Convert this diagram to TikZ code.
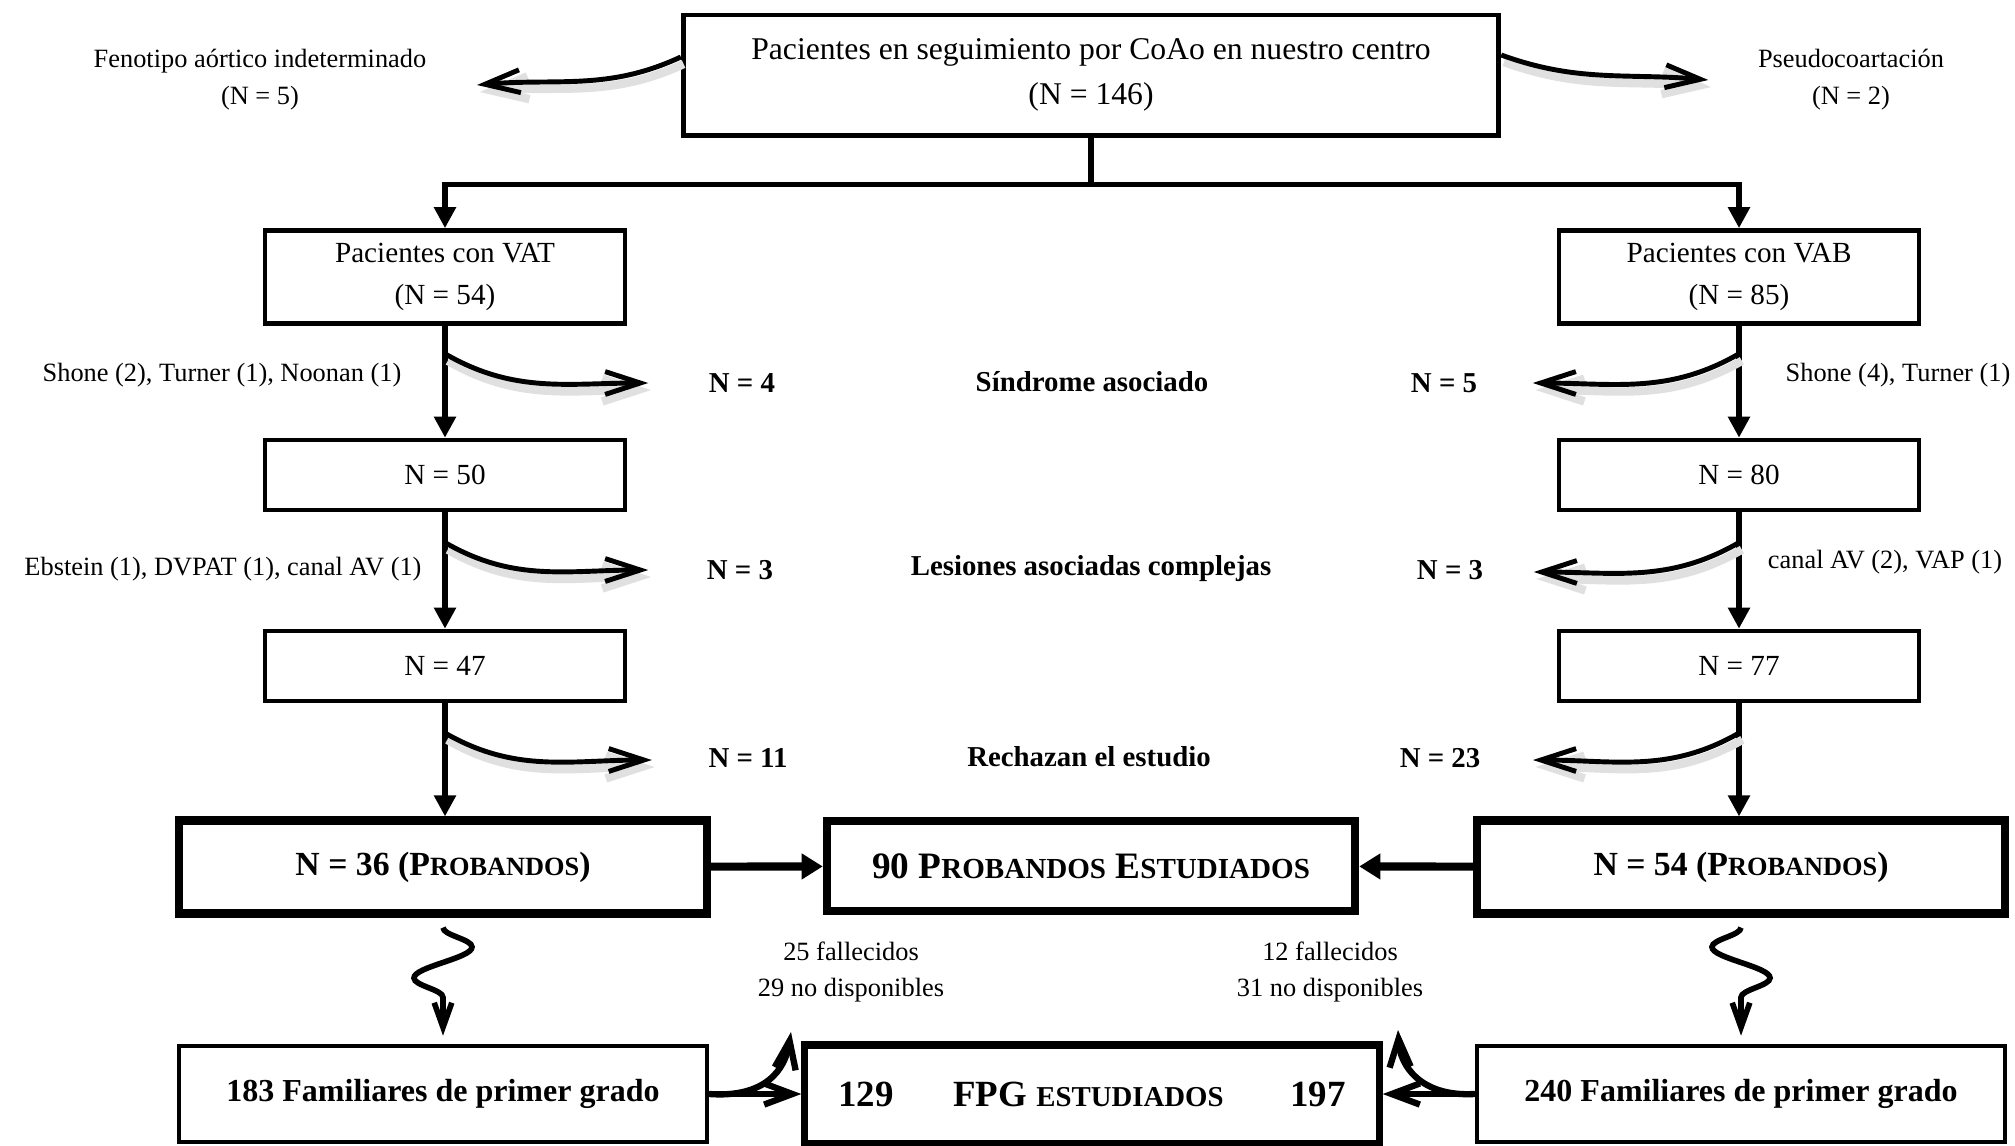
\documentclass[tikz,border=0pt]{standalone}
\usepackage{fontspec}
\setmainfont{Liberation Serif}
\usetikzlibrary{arrows.meta,decorations.pathmorphing,calc}
\makeatletter
\newcommand{\scap}[1]{{\fontsize{\the\dimexpr 0.78\dimexpr\f@size pt\relax\relax}{12pt}\selectfont #1}}
\makeatother

\begin{document}
\begin{tikzpicture}[x=0.01cm,y=-0.01cm]
\tikzstyle{box} = [rectangle, draw, line width=1.3pt, minimum width=3.6cm,
minimum height=0.7cm, align=center, inner sep=1pt, font=\fontsize{8.3}{11.7}\selectfont]
\tikzstyle{bigbox} = [rectangle, draw, line width=2.3pt, minimum width=5.28cm,
minimum height=0.93cm, inner sep=1pt, font=\bfseries\fontsize{9.6}{12}\selectfont]
\tikzstyle{note} = [align=center, inner sep=0pt, font=\fontsize{7.5}{10.5}\selectfont]
\tikzstyle{count} = [inner sep=0pt, font=\bfseries\fontsize{8.2}{10}\selectfont]
\tikzstyle{line} = [draw, line width=1.6pt, -{Triangle[length=6pt,width=6pt]}]
\tikzstyle{curved} = [draw, line width=1.4pt, -{Straight Barb[length=10pt,width=6.5pt]},
preaction={draw=black!12, line width=2.4pt, transform canvas={shift={(0.8pt,-2pt)}}}]
\tikzstyle{brush} = [draw, line width=1.8pt, -{Straight Barb[length=8pt,width=6pt]}]
\tikzstyle{squig} = [draw, line width=1.6pt, decorate,
decoration={snake, amplitude=2.9mm, segment length=6.2mm, post length=2.5mm},
-{Straight Barb[length=7pt,width=5pt]}]

\path[use as bounding box, fill=white] (0,0) rectangle (2015,1145);

% row 0
\node[box, line width=1.4pt, minimum width=8.15cm, minimum height=1.2cm,
font=\fontsize{9}{13}\selectfont] (top) at (1091,75)
{Pacientes en seguimiento por CoAo en nuestro centro\\(N = 146)};
\node[note] (feno) at (260,80) {Fenotipo aórtico indeterminado\\(N = 5)};
\node[note] (pseudo) at (1851,80) {Pseudocoartación\\(N = 2)};
% row 1
\node[box, minimum height=0.93cm] (vat) at (445,277) {Pacientes con VAT\\(N = 54)};
\node[box, minimum height=0.93cm] (vab) at (1739,277) {Pacientes con VAB\\(N = 85)};
% row 2
\node[box] (n50) at (445,475) {N = 50};
\node[box] (n80) at (1739,475) {N = 80};
% row 3
\node[box] (n47) at (445,666) {N = 47};
\node[box] (n77) at (1739,666) {N = 77};
% row 4
\node[bigbox] (p36) at (443,867) {N = 36 (P\scap{ROBANDOS})};
\node[bigbox, minimum height=0.9cm, font=\bfseries\fontsize{10.6}{12}\selectfont] (p90)
at (1091,866) {90 P\scap{ROBANDOS} E\scap{STUDIADOS}};
\node[bigbox] (p54) at (1741,867) {N = 54 (P\scap{ROBANDOS})};
% row 5
\node[box, minimum width=5.28cm, minimum height=0.96cm,
font=\bfseries\fontsize{9.1}{11}\selectfont] (f183) at (443,1094) {183 Familiares de primer grado};
\node[bigbox, line width=2pt, minimum width=5.74cm, minimum height=0.98cm,
font=\bfseries\fontsize{10.5}{12}\selectfont] (fpg)
at (1092,1094) {129\hspace{17pt}FPG \scap{ESTUDIADOS}\hspace{19pt}197};
\node[box, minimum width=5.28cm, minimum height=0.96cm,
font=\bfseries\fontsize{9.1}{11}\selectfont] (f240) at (1741,1094) {240 Familiares de primer grado};

% exclusions
\node[count] (sind) at (1092,382) {Síndrome asociado};
\node[count] (lesi) at (1091,569) {Lesiones asociadas complejas};
\node[count] (rech) at (1089,757) {Rechazan el estudio};
\node[count] (c4) at (742,383) {N = 4};
\node[count] (c5) at (1444,383) {N = 5};
\node[count] (c3a) at (740,570) {N = 3};
\node[count] (c3b) at (1450,570) {N = 3};
\node[count] (c11) at (748,758) {N = 11};
\node[count] (c23) at (1440,758) {N = 23};
\node[note] (shl) at (222,375) {Shone (2), Turner (1), Noonan (1)};
\node[note] (shr) at (1898,375) {Shone (4), Turner (1)};
\node[note] (ebs) at (223,569) {Ebstein (1), DVPAT (1), canal AV (1)};
\node[note] (can) at (1885,562) {canal AV (2), VAP (1)};
\node[note] (lost25) at (851,972) {25 fallecidos\\29 no disponibles};
\node[note] (lost12) at (1330,972) {12 fallecidos\\31 no disponibles};
\coordinate (up25) at (791,1032);
\coordinate (up12) at (1398,1030);

% main flow
\path[line] (top.south) -- ++(0,47) -| (vat.north);
\path[line] (top.south) -- ++(0,47) -| (vab.north);
\path[line] (vat) -- (n50);
\path[line] (n50) -- (n47);
\path[line] (n47) -- (n47 |- p36.north);
\path[line] (vab) -- (n80);
\path[line] (n80) -- (n77);
\path[line] (n77) -- (n77 |- p54.north);
\path[line, line width=2.3pt, -{Triangle[length=6pt,width=7pt]}] (p36) -- (p90);
\path[line, line width=2.3pt, -{Triangle[length=6pt,width=7pt]}] (p54) -- (p90);

% side arrows
\path[curved] ([yshift=0.18cm]top.west) to[out=205,in=5] ($(feno.east)+(50,5)$);
\path[curved] ([yshift=0.2cm]top.east) to[out=-20,in=175] ($(pseudo.west)+(-49,0)$);
\path[curved] ($(vat.south)!0.25!(n50.north)$) to[out=-30,in=180] ($(c4.west)+(-60,0)$);
\path[curved] ($(n50.south)!0.26!(n47.north)$) to[out=-30,in=180] ($(c3a.west)+(-58,0)$);
\path[curved] ($(n47.south)!0.26!(p36.north)$) to[out=-30,in=180] ($(c11.west)+(-56,2)$);
\path[curved] ($(vab.south)!0.25!(n80.north)$) to[out=210,in=0] ($(c5.east)+(55,0)$);
\path[curved] ($(n80.south)!0.26!(n77.north)$) to[out=210,in=0] ($(c3b.east)+(50,2)$);
\path[curved] ($(n77.south)!0.26!(p54.north)$) to[out=210,in=0] ($(c23.east)+(52,2)$);

% relatives
\path[squig] ([yshift=-0.1cm]p36.south) -- ([yshift=0.08cm]f183.north);
\path[squig, decoration={mirror}] ([yshift=-0.1cm]p54.south) -- ([yshift=0.08cm]f240.north);
\path[brush] (f183.east) -- (fpg.west);
\path[brush] (f183.east) .. controls (765,1098) and (785,1070) .. (up25);
\path[brush] (f240.west) -- (fpg.east);
\path[brush] (f240.west) .. controls (1420,1097) and (1400,1065) .. (up12);

\end{tikzpicture}
\end{document}
